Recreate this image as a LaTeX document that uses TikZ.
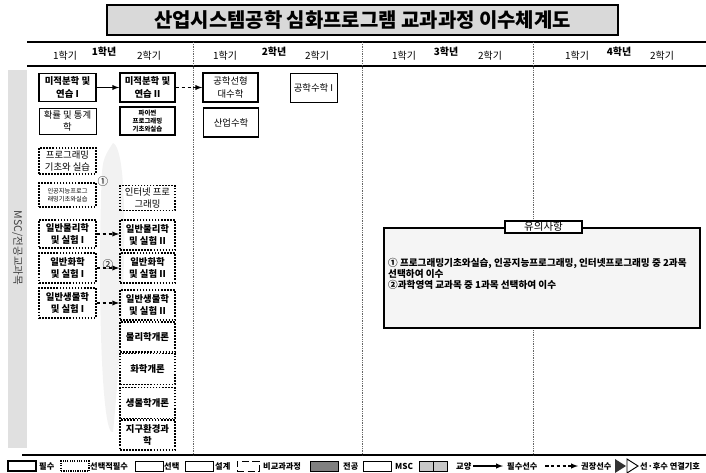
\documentclass[tikz,border=0pt]{standalone}
\usepackage{fontspec}
\setmainfont{Noto Sans CJK KR}
\colorlet{bandGray}{black!12}
\colorlet{noteGray}{black!4}
\colorlet{majorGray}{black!50}
\colorlet{liberalGray}{black!22}

\begin{document}
\begin{tikzpicture}[x=0.03cm, y=-0.03cm,
	box/.style = {align=center, inner sep=0pt, font=\fontsize{8}{10.5}\selectfont},
	heavy/.style = {font=\fontsize{8}{10.5}\selectfont\bfseries},
	must/.style = {box, draw, line width=1.4pt},
	choice/.style = {box, draw, line width=1.5pt, dash pattern=on 1.4pt off 1.2pt},
	free/.style = {box, draw, line width=0.6pt},
	colA/.style = {minimum width=1.71cm, minimum height=0.84cm},
	colB/.style = {minimum width=1.65cm, minimum height=0.9cm},
	term/.style = {font=\fontsize{8.5}{10}\selectfont},
	year/.style = {font=\fontsize{8.5}{10}\selectfont\bfseries},
	divider/.style = {black!60, densely dotted, line width=0.5pt},
	rule/.style = {line width=1.6pt},
	key/.style = {draw, inner sep=0pt, minimum width=0.84cm, minimum height=0.3cm},
	keytext/.style = {anchor=west, inner sep=0pt, font=\fontsize{7}{8}\selectfont\bfseries}]
		\useasboundingbox (0,0) rectangle (706,472);
		%%%%%%%%%%%%% title and header
		\node (title) at (362.5,20) [draw, line width=1.4pt, fill=black!15, minimum width=15.33cm, minimum height=0.9cm, font=\fontsize{17}{20}\selectfont\bfseries] {산업시스템공학 심화프로그램 교과과정 이수체계도};
		\draw [rule] (27,42) -- (706,42);
		\draw [rule] (27,66) -- (706,66);
		\draw [rule] (22,455) -- (706,455);
		\draw [divider] (193,42) -- (193,455);
		\draw [divider] (362,42) -- (362,455);
		\draw [divider] (533,42) -- (533,455);
		\node [term] (t11) at (65,56) {1학기};
		\node [year] (y1) at (104,52) {1학년};
		\node [term] (t12) at (149,56) {2학기};
		\node [term] (t21) at (225,56) {1학기};
		\node [year] (y2) at (274,52) {2학년};
		\node [term] (t22) at (317,56) {2학기};
		\node [term] (t31) at (404,56) {1학기};
		\node [year] (y3) at (446,52) {3학년};
		\node [term] (t32) at (490,56) {2학기};
		\node [term] (t41) at (577,56) {1학기};
		\node [year] (y4) at (619,52) {4학년};
		\node [term] (t42) at (662,56) {2학기};
		%%%%%%%%%%%%% side band and faint mark
		\fill [bandGray] (8,70) rectangle (27,448);
		\node [rotate=-90, font=\fontsize{9}{10}\selectfont, text=black!75] (band) at (17.5,248) {MSC/전공교과목};
		\fill [black!5] (113,143) .. controls (130,150) and (126,300) .. (113,432) .. controls (102,438) and (98,300) .. (101,200) .. controls (102,160) .. (113,143);
		%%%%%%%%%%%%% year 1
		\node [must, colA, heavy] (calc1) at (67.5,87.5) {미적분학 및\\연습 I};
		\node [must, colB, minimum height=0.87cm, heavy] (calc2) at (147.5,87.5) {미적분학 및\\연습 II};
		\node [free, colA, minimum height=0.78cm] (stat) at (67.5,121) {확률 및 통계\\학};
		\node [must, colB, minimum height=0.84cm, font=\fontsize{5.5}{6.5}\selectfont\bfseries] (py) at (147.5,121) {파이썬\\프로그래밍\\기초와실습};
		\node [choice, colA, minimum height=0.78cm] (prog) at (67.5,161) {프로그래밍\\기초와 실습};
		\node [font=\fontsize{9}{10}\selectfont] (n1) at (103,181) {①};
		\node [choice, colA, minimum height=0.72cm, font=\fontsize{5.3}{6.8}\selectfont] (aiprog) at (67.5,195) {인공지능프로그\\래밍기초와실습};
		\node [choice, colB, minimum height=0.75cm] (web) at (147.5,198) {인터넷 프로\\그래밍};
		\node [choice, colA, heavy] (phy1) at (67.5,234) {일반물리학\\및 실험 I};
		\node [choice, colB, heavy] (phy2) at (147.5,235) {일반물리학\\및 실험 II};
		\node [font=\fontsize{9}{10}\selectfont] (n2) at (108,264) {②};
		\node [choice, colA, minimum height=0.9cm, heavy] (chem1) at (67.5,268) {일반화학\\및 실험 I};
		\node [choice, colB, heavy] (chem2) at (147.5,268) {일반화학\\및 실험 II};
		\node [choice, colA, minimum height=0.9cm, heavy] (bio1) at (67.5,303) {일반생물학\\및 실험 I};
		\node [choice, colB, heavy] (bio2) at (147.5,305) {일반생물학\\및 실험 II};
		\node [choice, colB, heavy] (gphy) at (147.5,337) {물리학개론};
		\node [choice, colB, minimum height=0.93cm, heavy] (gchem) at (147.5,369) {화학개론};
		\node [choice, colB, minimum height=0.93cm, heavy] (gbio) at (147.5,403) {생물학개론};
		\node [choice, colB, heavy] (earth) at (147.5,435) {지구환경과\\학};
		%%%%%%%%%%%%% year 2
		\node [must, colB, minimum height=0.87cm] (linalg) at (230.5,87.5) {공학선형\\대수학};
		\node [must, colB, minimum height=0.87cm] (indmath) at (231,122.5) {산업수학};
		\node [free, minimum width=1.41cm, minimum height=0.87cm] (engmath) at (313.5,87.5) {공학수학 I};
		%%%%%%%%%%%%% prerequisites
		\draw [-latex, line width=1pt] (calc1) -- (calc2);
		\draw [-latex, line width=1pt, dash pattern=on 3pt off 2pt] (calc2) -- (linalg);
		\draw [-latex, line width=1pt, dash pattern=on 3pt off 2pt] (phy1) -- (phy1 -| phy2.west);
		\draw [-latex, line width=1pt, dash pattern=on 3pt off 2pt] (chem1) -- (chem2);
		\draw [-latex, line width=1pt, dash pattern=on 3pt off 2pt] (bio1) -- (bio1 -| bio2.west);
		%%%%%%%%%%%%% note
		\node [draw, line width=1.4pt, fill=noteGray, minimum width=9.48cm, minimum height=3.0cm] (note) at (542,278) {};
		\node [draw, line width=1.4pt, fill=white, minimum width=2.3cm, minimum height=0.36cm, inner sep=0pt, font=\fontsize{9}{10}\selectfont] (notehead) at (543.5,227) {유의사항};
		\node [anchor=north west, align=left, inner sep=0pt, font=\fontsize{8.2}{9.6}\selectfont\bfseries] (notetext) at (388,258) {① 프로그래밍기초와실습, 인공지능프로그래밍, 인터넷프로그래밍 중 2과목\\선택하여 이수\\②과학영역 교과목 중 1과목 선택하여 이수};
		%%%%%%%%%%%%% legend
		\node [key, line width=1.4pt] (k1) at (22,466) {};
		\node [keytext] (k1t) at (39,466) {필수};
		\node [key, line width=1.2pt, dash pattern=on 1pt off 1pt] (k2) at (75,466) {};
		\node [keytext] (k2t) at (90,466) {선택적필수};
		\node [key, line width=0.6pt] (k3) at (149,466) {};
		\node [keytext] (k3t) at (164,466) {선택};
		\node [key, line width=0.6pt] (k4) at (199,466) {};
		\node [keytext] (k4t) at (215,466) {설계};
		\node [key, line width=0.6pt, minimum width=0.66cm, dash pattern=on 6pt off 3pt] (k5) at (248,466) {};
		\node [keytext] (k5t) at (263,466) {비교과과정};
		\node [key, line width=0.6pt, fill=majorGray] (k6) at (324,466) {};
		\node [keytext] (k6t) at (343,466) {전공};
		\node [key, line width=0.6pt] (k7) at (377,466) {};
		\node [keytext] (k7t) at (395,466) {MSC};
		\node [key, line width=0.6pt, fill=liberalGray] (k8) at (433.5,466) {};
		\draw [line width=0.6pt] (k8.north) -- (k8.south);
		\node [keytext] (k8t) at (456,466) {교양};
		\coordinate (a1) at (473,466); \coordinate (a2) at (503,466);
		\draw [-latex, line width=1pt] (a1) -- (a2);
		\node [keytext] (k9t) at (507,466) {필수선수};
		\coordinate (b1) at (545,466); \coordinate (b2) at (578,466);
		\draw [-latex, line width=1pt, dash pattern=on 3pt off 2pt] (b1) -- (b2);
		\node [keytext] (k10t) at (581,466) {권장선수};
		\fill [black!80] (615,459) -- (626,466) -- (615,473) -- cycle;
		\draw [line width=0.8pt] (627,459) -- (638,466) -- (627,473) -- cycle;
		\node [keytext] (k11t) at (640,466) {선·후수 연결기호};
\end{tikzpicture}
\end{document}
